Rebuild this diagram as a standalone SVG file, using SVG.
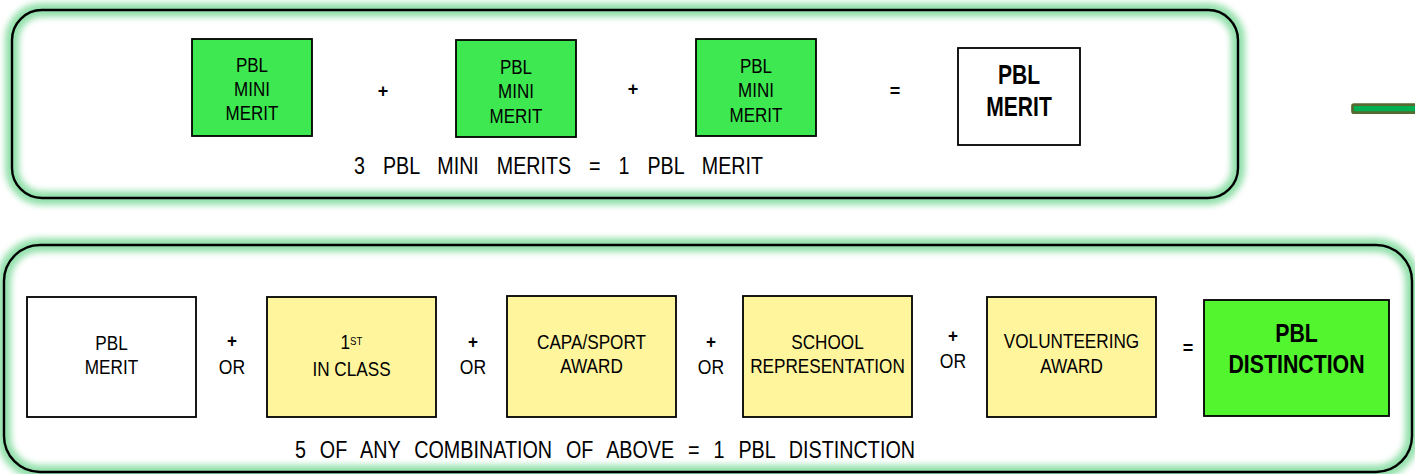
<svg xmlns="http://www.w3.org/2000/svg" width="1415" height="474" viewBox="0 0 1415 474">
<defs>
<filter id="glow" x="-5%" y="-10%" width="110%" height="120%">
<feGaussianBlur stdDeviation="3"/>
</filter>
</defs>
<style>
text{font-family:"Liberation Sans",Arial,sans-serif;fill:#000;}
.c{text-anchor:middle;}
.t20{font-size:20.5px;}
.t19{font-size:19.5px;}
.b27{font-size:27px;font-weight:bold;}
.b26{font-size:26px;font-weight:bold;}
.cap{font-size:23.5px;}
.op{font-size:18px;font-weight:bold;}
.opb{font-size:19px;font-weight:bold;}
.box{stroke:#000;stroke-width:1.8;}
.mini{fill:#3ee851;}
.yel{fill:#fff59d;}
.dist{fill:#52f52e;}
.wht{fill:#fff;}
.frame{fill:none;stroke:#000;stroke-width:2.4;}
.halo{fill:none;stroke:#92e0aa;stroke-width:14;filter:url(#glow);}
</style>
<rect width="1415" height="474" fill="#fff"/>

<g id="panel-top">
<rect x="12" y="10" width="1226" height="188" rx="30" class="halo"/>
<rect x="12" y="10" width="1226" height="188" rx="30" class="frame"/>
</g>
<g id="panel-bottom">
<rect x="4" y="245" width="1408" height="227" rx="36" class="halo"/>
<rect x="4" y="245" width="1408" height="227" rx="36" class="frame"/>
</g>

<g id="bar">
<rect x="1352.5" y="104.7" width="80" height="8" rx="1.5" fill="#00b050" stroke="#556b2f" stroke-width="2.7"/>
</g>

<g id="mini1">
<rect x="192" y="39" width="120" height="97" class="box mini"/>
<g transform="translate(252,0) scale(0.83,1)">
<text class="c t20" x="0" y="72">PBL</text>
<text class="c t20" x="0" y="96">MINI</text>
<text class="c t20" x="0" y="120">MERIT</text>
</g>
</g>
<g id="mini2">
<rect x="456" y="40" width="120" height="97" class="box mini"/>
<g transform="translate(516,0) scale(0.83,1)">
<text class="c t20" x="0" y="74">PBL</text>
<text class="c t20" x="0" y="98">MINI</text>
<text class="c t20" x="0" y="123">MERIT</text>
</g>
</g>
<g id="mini3">
<rect x="696" y="39" width="120" height="97" class="box mini"/>
<g transform="translate(756,0) scale(0.83,1)">
<text class="c t20" x="0" y="73">PBL</text>
<text class="c t20" x="0" y="97">MINI</text>
<text class="c t20" x="0" y="122">MERIT</text>
</g>
</g>
<g id="merit-top">
<rect x="958" y="48" width="122" height="97" class="box wht"/>
<g transform="translate(1019,0) scale(0.78,1)">
<text class="c b27" x="0" y="84">PBL</text>
<text class="c b27" x="0" y="116">MERIT</text>
</g>
</g>

<g id="operators-top">
<text class="c op" x="383" y="97">+</text>
<text class="c op" x="633" y="95">+</text>
<text class="c op" x="895" y="97">=</text>
</g>
<g id="caption-top">
<text class="cap" x="354" y="174" textLength="409" lengthAdjust="spacingAndGlyphs" word-spacing="15">3 PBL MINI MERITS = 1 PBL MERIT</text>
</g>

<g id="merit">
<rect x="27" y="297" width="169" height="120" class="box wht"/>
<g transform="translate(111.5,0) scale(0.88,1)">
<text class="c t19" x="0" y="350">PBL</text>
<text class="c t19" x="0" y="374">MERIT</text>
</g>
</g>
<g id="first">
<rect x="267" y="297" width="169" height="120" class="box yel"/>
<g transform="translate(351.5,0) scale(0.88,1)">
<text class="c t19" x="0" y="349">1<tspan font-size="11" dy="-4">ST</tspan></text>
<text class="c t19" x="0" y="376">IN CLASS</text>
</g>
</g>
<g id="capa">
<rect x="507" y="296" width="169" height="121" class="box yel"/>
<g transform="translate(591.5,0) scale(0.88,1)">
<text class="c t19" x="0" y="349">CAPA/SPORT</text>
<text class="c t19" x="0" y="373">AWARD</text>
</g>
</g>
<g id="school">
<rect x="743" y="296" width="169" height="121" class="box yel"/>
<g transform="translate(827.5,0) scale(0.88,1)">
<text class="c t19" x="0" y="349">SCHOOL</text>
<text class="c t19" x="0" y="373">REPRESENTATION</text>
</g>
</g>
<g id="volunteer">
<rect x="987" y="297" width="169" height="120" class="box yel"/>
<g transform="translate(1071.5,0) scale(0.88,1)">
<text class="c t19" x="0" y="348">VOLUNTEERING</text>
<text class="c t19" x="0" y="373">AWARD</text>
</g>
</g>
<g id="distinction">
<rect x="1204" y="300" width="185" height="116" class="box dist"/>
<g transform="translate(1296.5,0) scale(0.82,1)">
<text class="c b26" x="0" y="342">PBL</text>
<text class="c b26" x="0" y="373">DISTINCTION</text>
</g>
</g>

<g id="operators-bottom">
<g transform="translate(232,0) scale(0.9,1)">
<text class="c opb" x="0" y="347.5">+</text>
<text class="c t19" x="0" y="374">OR</text>
</g>
<g transform="translate(473,0) scale(0.9,1)">
<text class="c opb" x="0" y="348.5">+</text>
<text class="c t19" x="0" y="374">OR</text>
</g>
<g transform="translate(711,0) scale(0.9,1)">
<text class="c opb" x="0" y="348.5">+</text>
<text class="c t19" x="0" y="374">OR</text>
</g>
<g transform="translate(953,0) scale(0.9,1)">
<text class="c opb" x="0" y="342.5">+</text>
<text class="c t19" x="0" y="368">OR</text>
</g>
<text class="c op" x="1188" y="353.5">=</text>
</g>
<g id="caption-bottom">
<text class="cap" x="295" y="458" textLength="620" lengthAdjust="spacingAndGlyphs" word-spacing="10">5 OF ANY COMBINATION OF ABOVE = 1 PBL DISTINCTION</text>
</g>
</svg>
